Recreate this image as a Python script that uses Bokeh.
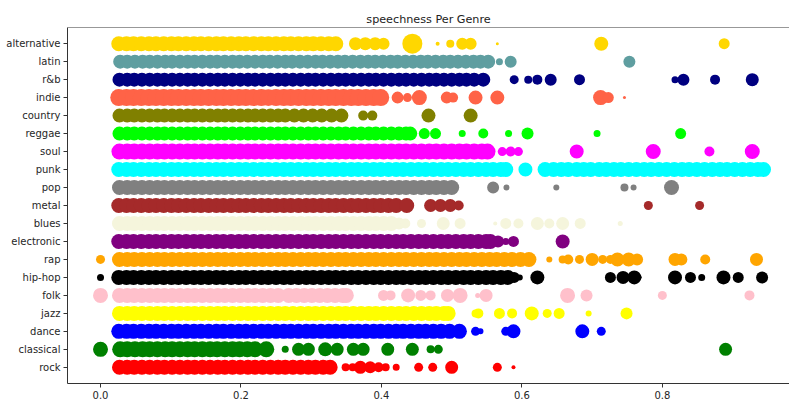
from bokeh.plotting import figure
from bokeh.models import ColumnDataSource, Range1d, FixedTicker, Span, NumeralTickFormatter
from bokeh.embed import file_html
from bokeh.resources import INLINE

# categories, bottom to top
genres = ["rock", "classical", "dance", "jazz", "folk", "hip-hop", "rap", "electronic",
          "blues", "metal", "pop", "punk", "soul", "reggae", "country", "indie", "r&b",
          "latin", "alternative"]
colors = ["#FF0000", "#008000", "#0000FF", "#FFFF00", "#FFC0CB", "#000000", "#FFA500",
          "#800080", "#F5F5DC", "#A52A2A", "#808080", "#00FFFF", "#FF00FF", "#00FF00",
          "#808000", "#FF6347", "#000080", "#5F9EA0", "#FFD700"]
band_size = [15, 16, 15, 15, 15, 15, 15, 15, 15, 15, 15, 15, 16, 14, 14, 17, 14, 14, 15]

# dense speechness values (the bulk of the tracks) per genre
rock_band = [0.027, 0.038, 0.048, 0.059, 0.070, 0.081, 0.091, 0.102, 0.113, 0.124, 0.134, 0.145,
             0.156, 0.167, 0.177, 0.188, 0.199, 0.210, 0.220, 0.231, 0.242, 0.253, 0.263, 0.274,
             0.285, 0.296, 0.306, 0.317, 0.327]
classical_band = [0.028, 0.038, 0.049, 0.060, 0.070, 0.081, 0.092, 0.102, 0.113, 0.124, 0.134,
                  0.145, 0.156, 0.166, 0.177, 0.188, 0.198, 0.209, 0.220, 0.236]
dance_band = [0.026, 0.037, 0.047, 0.058, 0.069, 0.079, 0.090, 0.101, 0.111, 0.122, 0.133, 0.143,
              0.154, 0.165, 0.175, 0.186, 0.197, 0.207, 0.218, 0.229, 0.239, 0.250, 0.261, 0.271,
              0.282, 0.293, 0.303, 0.314, 0.325, 0.335, 0.346, 0.357, 0.367, 0.378, 0.389, 0.399,
              0.410, 0.421, 0.431, 0.442, 0.453, 0.463, 0.474, 0.485, 0.497, 0.511]
jazz_band = [0.027, 0.038, 0.048, 0.059, 0.070, 0.081, 0.091, 0.102, 0.113, 0.124, 0.134, 0.145,
             0.156, 0.167, 0.177, 0.188, 0.199, 0.210, 0.220, 0.231, 0.242, 0.253, 0.263, 0.274,
             0.285, 0.296, 0.306, 0.317, 0.328, 0.339, 0.349, 0.360, 0.371, 0.382, 0.392, 0.403,
             0.414, 0.425, 0.435, 0.446, 0.457, 0.468, 0.478, 0.489, 0.495]
folk_band = [0.027, 0.038, 0.048, 0.059, 0.070, 0.081, 0.091, 0.102, 0.113, 0.124, 0.134, 0.145,
             0.156, 0.167, 0.177, 0.188, 0.199, 0.210, 0.220, 0.231, 0.242, 0.253, 0.268, 0.279,
             0.290, 0.301, 0.312, 0.323, 0.334, 0.345, 0.350]
hiphop_band = [0.026, 0.037, 0.047, 0.058, 0.069, 0.079, 0.090, 0.101, 0.111, 0.122, 0.133, 0.143,
               0.154, 0.165, 0.175, 0.186, 0.197, 0.207, 0.218, 0.229, 0.239, 0.250, 0.261, 0.271,
               0.282, 0.293, 0.303, 0.314, 0.325, 0.335, 0.346, 0.357, 0.367, 0.378, 0.389, 0.399,
               0.410, 0.421, 0.431, 0.442, 0.453, 0.463, 0.474, 0.485, 0.495, 0.506, 0.517, 0.527,
               0.538, 0.549, 0.559, 0.570, 0.580]
rap_band = [0.027, 0.038, 0.048, 0.059, 0.070, 0.081, 0.091, 0.102, 0.113, 0.124, 0.134, 0.145,
            0.156, 0.167, 0.177, 0.188, 0.199, 0.210, 0.220, 0.231, 0.242, 0.253, 0.263, 0.274,
            0.285, 0.296, 0.306, 0.317, 0.328, 0.339, 0.349, 0.360, 0.371, 0.382, 0.392, 0.403,
            0.414, 0.425, 0.435, 0.446, 0.457, 0.468, 0.478, 0.489, 0.500, 0.511, 0.521, 0.532,
            0.543, 0.554, 0.564, 0.575, 0.586, 0.598, 0.610]
electronic_band = [0.026, 0.037, 0.047, 0.058, 0.069, 0.079, 0.090, 0.101, 0.111, 0.122, 0.133,
                   0.143, 0.154, 0.165, 0.175, 0.186, 0.197, 0.207, 0.218, 0.229, 0.239, 0.250,
                   0.261, 0.271, 0.282, 0.293, 0.303, 0.314, 0.325, 0.335, 0.346, 0.357, 0.367,
                   0.378, 0.389, 0.399, 0.410, 0.421, 0.431, 0.442, 0.453, 0.463, 0.474, 0.485,
                   0.495, 0.506, 0.517, 0.527, 0.538, 0.549, 0.555]
blues_band = [0.027, 0.038, 0.048, 0.059, 0.070, 0.081, 0.091, 0.102, 0.113, 0.124, 0.134, 0.145,
              0.156, 0.167, 0.177, 0.188, 0.199, 0.210, 0.220, 0.231, 0.242, 0.253, 0.263, 0.274,
              0.285, 0.296, 0.306, 0.317, 0.328, 0.339, 0.349, 0.360, 0.371, 0.382, 0.392, 0.403,
              0.414]
metal_band = [0.026, 0.037, 0.047, 0.058, 0.069, 0.079, 0.090, 0.101, 0.111, 0.122, 0.133, 0.143,
              0.154, 0.165, 0.175, 0.186, 0.197, 0.207, 0.218, 0.229, 0.239, 0.250, 0.261, 0.271,
              0.282, 0.293, 0.303, 0.314, 0.325, 0.335, 0.346, 0.357, 0.367, 0.378, 0.389, 0.399,
              0.410, 0.421, 0.436]
pop_band = [0.027, 0.038, 0.048, 0.059, 0.070, 0.081, 0.091, 0.102, 0.113, 0.124, 0.134, 0.145,
            0.156, 0.167, 0.177, 0.188, 0.199, 0.210, 0.220, 0.231, 0.242, 0.253, 0.263, 0.274,
            0.285, 0.296, 0.306, 0.317, 0.328, 0.339, 0.349, 0.360, 0.371, 0.382, 0.392, 0.403,
            0.414, 0.425, 0.435, 0.446, 0.457, 0.468, 0.478, 0.489, 0.500]
punk_band = [0.026, 0.037, 0.047, 0.058, 0.069, 0.079, 0.090, 0.101, 0.111, 0.122, 0.133, 0.143,
             0.154, 0.165, 0.175, 0.186, 0.197, 0.207, 0.218, 0.229, 0.239, 0.250, 0.261, 0.271,
             0.282, 0.293, 0.303, 0.314, 0.325, 0.335, 0.346, 0.357, 0.367, 0.378, 0.389, 0.399,
             0.410, 0.421, 0.431, 0.442, 0.453, 0.463, 0.474, 0.485, 0.495, 0.506, 0.517, 0.527,
             0.538, 0.549, 0.559, 0.570, 0.577,
             0.633, 0.645, 0.656, 0.666, 0.678, 0.688, 0.698, 0.710, 0.720, 0.731, 0.741, 0.752,
             0.763, 0.774, 0.784, 0.795, 0.806, 0.817, 0.828, 0.838, 0.849, 0.860, 0.871, 0.882,
             0.892, 0.903, 0.914, 0.925, 0.936, 0.944]
soul_band = [0.027, 0.038, 0.048, 0.059, 0.070, 0.081, 0.091, 0.102, 0.113, 0.124, 0.134, 0.145,
             0.156, 0.167, 0.177, 0.188, 0.199, 0.210, 0.220, 0.231, 0.242, 0.253, 0.263, 0.274,
             0.285, 0.296, 0.306, 0.317, 0.328, 0.339, 0.349, 0.360, 0.371, 0.382, 0.392, 0.403,
             0.414, 0.425, 0.435, 0.446, 0.457, 0.468, 0.478, 0.489, 0.500, 0.511, 0.521, 0.532,
             0.543, 0.551]
reggae_band = [0.027, 0.038, 0.048, 0.059, 0.070, 0.081, 0.091, 0.102, 0.113, 0.124, 0.134, 0.145,
               0.156, 0.167, 0.177, 0.188, 0.199, 0.210, 0.220, 0.231, 0.242, 0.253, 0.263, 0.274,
               0.285, 0.296, 0.306, 0.317, 0.328, 0.339, 0.349, 0.360, 0.371, 0.382, 0.392, 0.403,
               0.414, 0.425, 0.435, 0.441]
country_band = [0.027, 0.038, 0.048, 0.059, 0.070, 0.081, 0.091, 0.102, 0.113, 0.124, 0.134,
                0.145, 0.156, 0.167, 0.177, 0.188, 0.199, 0.210, 0.220, 0.231, 0.242, 0.253,
                0.263, 0.276, 0.289, 0.302, 0.315, 0.329, 0.343]
indie_band = [0.026, 0.037, 0.047, 0.058, 0.069, 0.079, 0.090, 0.101, 0.111, 0.122, 0.133, 0.143,
              0.154, 0.165, 0.175, 0.186, 0.197, 0.207, 0.218, 0.229, 0.239, 0.250, 0.261, 0.271,
              0.282, 0.293, 0.303, 0.314, 0.325, 0.335, 0.346, 0.357, 0.367, 0.378, 0.389, 0.399]
rnb_band = [0.027, 0.038, 0.048, 0.059, 0.070, 0.081, 0.091, 0.102, 0.113, 0.124, 0.134, 0.145,
            0.156, 0.167, 0.177, 0.188, 0.199, 0.210, 0.220, 0.231, 0.242, 0.253, 0.263, 0.274,
            0.285, 0.296, 0.306, 0.317, 0.328, 0.339, 0.349, 0.360, 0.371, 0.382, 0.392, 0.403,
            0.414, 0.425, 0.435, 0.446, 0.457, 0.468, 0.478, 0.489, 0.500, 0.511, 0.521, 0.532,
            0.545]
latin_band = [0.028, 0.038, 0.049, 0.060, 0.070, 0.081, 0.092, 0.102, 0.113, 0.124, 0.134, 0.145,
              0.156, 0.166, 0.177, 0.188, 0.198, 0.209, 0.220, 0.231, 0.241, 0.252, 0.263, 0.273,
              0.284, 0.295, 0.306, 0.316, 0.327, 0.338, 0.348, 0.359, 0.370, 0.381, 0.391, 0.402,
              0.413, 0.423, 0.434, 0.445, 0.456, 0.466, 0.477, 0.488, 0.498, 0.509, 0.520, 0.531,
              0.541, 0.552]
alternative_band = [0.026, 0.037, 0.047, 0.058, 0.069, 0.079, 0.090, 0.101, 0.111, 0.122, 0.133,
                    0.143, 0.154, 0.165, 0.175, 0.186, 0.197, 0.207, 0.218, 0.229, 0.239, 0.250,
                    0.261, 0.271, 0.282, 0.293, 0.303, 0.314, 0.325, 0.335]

# sparser / outlying tracks per genre (speechness, marker size)
rock_x = [0.349, 0.359, 0.370, 0.384, 0.396, 0.406, 0.421, 0.453, 0.473, 0.500, 0.565, 0.588]
rock_s = [8, 8, 13, 12, 10, 8, 7, 9, 9, 13, 9, 4]
classical_x = [0.0, 0.263, 0.282, 0.296, 0.320, 0.337, 0.360, 0.374, 0.409, 0.444, 0.470, 0.481, 0.890]
classical_s = [15, 7, 13, 13, 14, 13, 13, 13, 13, 13, 8, 9, 13]
dance_x = [0.534, 0.541, 0.577, 0.588, 0.686, 0.713]
dance_s = [9, 6, 9, 14, 14, 9]
jazz_x = [0.534, 0.538, 0.568, 0.586, 0.614, 0.636, 0.653, 0.695, 0.749]
jazz_s = [8, 10, 11, 10, 14, 9, 11, 6, 12]
folk_x = [0.0, 0.403, 0.413, 0.438, 0.456, 0.470, 0.494, 0.512, 0.537, 0.549, 0.665, 0.692, 0.800, 0.924]
folk_s = [15, 11, 10, 14, 11, 10, 13, 15, 5, 13, 15, 12, 9, 10]
hiphop_x = [0.0, 0.589, 0.597, 0.622, 0.726, 0.744, 0.760, 0.767, 0.818, 0.840, 0.856, 0.887, 0.908, 0.942]
hiphop_s = [7, 11, 6, 14, 11, 13, 14, 5, 14, 11, 7, 14, 11, 12]
rap_x = [0.0, 0.639, 0.658, 0.666, 0.682, 0.700, 0.715, 0.726, 0.736, 0.752, 0.764, 0.818, 0.827, 0.861, 0.934]
rap_s = [9, 6, 8, 10, 9, 13, 9, 9, 14, 14, 12, 13, 12, 10, 13]
electronic_x = [0.566, 0.577, 0.588, 0.658]
electronic_s = [12, 7, 11, 14]
blues_x = [0.425, 0.434, 0.457, 0.488, 0.512, 0.562, 0.577, 0.595, 0.622, 0.639, 0.658, 0.683, 0.740]
blues_s = [12, 10, 9, 13, 11, 4, 11, 10, 13, 10, 13, 11, 5]
metal_x = [0.470, 0.484, 0.498, 0.510, 0.780, 0.853]
metal_s = [13, 13, 13, 10, 9, 9]
pop_x = [0.559, 0.578, 0.649, 0.746, 0.759, 0.813]
pop_s = [12, 6, 6, 8, 6, 15]
punk_x = [0.605]
punk_s = [14]
soul_x = [0.572, 0.584, 0.595, 0.678, 0.787, 0.867, 0.928]
soul_s = [9, 10, 9, 14, 15, 10, 15]
reggae_x = [0.461, 0.477, 0.515, 0.545, 0.581, 0.608, 0.707, 0.826]
reggae_s = [11, 11, 7, 10, 7, 12, 7, 11]
country_x = [0.374, 0.387, 0.467, 0.527]
country_s = [10, 10, 14, 14]
indie_x = [0.423, 0.437, 0.454, 0.493, 0.502, 0.534, 0.565, 0.712, 0.723, 0.746]
indie_s = [12, 9, 15, 12, 10, 14, 14, 15, 11, 3]
rnb_x = [0.589, 0.609, 0.622, 0.641, 0.682, 0.818, 0.830, 0.875, 0.928]
rnb_s = [9, 8, 10, 12, 11, 7, 12, 10, 13]
latin_x = [0.568, 0.584, 0.753]
latin_s = [7, 12, 12]
alternative_x = [0.363, 0.377, 0.391, 0.403, 0.444, 0.480, 0.498, 0.515, 0.527, 0.565, 0.713, 0.888]
alternative_s = [13, 13, 13, 12, 20, 4, 8, 12, 12, 3, 14, 11]

x_ticks = [0.0, 0.2, 0.4, 0.6, 0.8]

bands = [rock_band, classical_band, dance_band, jazz_band, folk_band, hiphop_band, rap_band,
         electronic_band, blues_band, metal_band, pop_band, punk_band, soul_band, reggae_band,
         country_band, indie_band, rnb_band, latin_band, alternative_band]
outs = [(rock_x, rock_s), (classical_x, classical_s), (dance_x, dance_s), (jazz_x, jazz_s),
        (folk_x, folk_s), (hiphop_x, hiphop_s), (rap_x, rap_s), (electronic_x, electronic_s),
        (blues_x, blues_s), (metal_x, metal_s), (pop_x, pop_s), (punk_x, punk_s),
        (soul_x, soul_s), (reggae_x, reggae_s), (country_x, country_s), (indie_x, indie_s),
        (rnb_x, rnb_s), (latin_x, latin_s), (alternative_x, alternative_s)]

xs, ys, ss, cs = [], [], [], []
for i, g in enumerate(genres):
    for v in bands[i]:
        xs.append(v); ys.append(i); ss.append(band_size[i]); cs.append(colors[i])
    ox, osz = outs[i]
    for v, s in zip(ox, osz):
        xs.append(v); ys.append(i); ss.append(s); cs.append(colors[i])

src = ColumnDataSource(dict(x=xs, y=ys, size=ss, color=cs))

p = figure(width=789, height=401, output_backend="svg", toolbar_location=None,
           x_range=Range1d(-0.047, 0.981), y_range=Range1d(-0.9, 18.9),
           min_border_left=67, min_border_right=0, min_border_top=27, min_border_bottom=0,
           title="speechness Per Genre")
p.scatter(x="x", y="y", size="size", color="color", line_color=None, source=src)

p.title.text_font = "DejaVu Sans"
p.title.text_font_size = "11.2px"
p.title.text_font_style = "normal"
p.title.text_color = "#222222"
p.title.align = "center"
p.title.standoff = 3

p.xgrid.visible = False
p.ygrid.visible = False
p.outline_line_color = None
p.background_fill_color = "white"
p.border_fill_color = "white"

p.yaxis.ticker = FixedTicker(ticks=list(range(len(genres))))
p.yaxis.major_label_overrides = {i: g for i, g in enumerate(genres)}
p.xaxis.ticker = FixedTicker(ticks=x_ticks)
p.xaxis.formatter = NumeralTickFormatter(format="0.0")

for ax in (p.xaxis[0], p.yaxis[0]):
    ax.axis_line_color = "#333333"
    ax.major_tick_line_color = "#333333"
    ax.major_tick_out = 4
    ax.major_tick_in = 0
    ax.minor_tick_out = 0
    ax.minor_tick_in = 0
    ax.major_label_text_font = "DejaVu Sans"
    ax.major_label_text_font_size = "10px"
    ax.major_label_text_color = "#262626"
    ax.major_label_standoff = 3

p.add_layout(Span(location=18.9, dimension="width", line_color="#333333", line_width=1))

open("out.html", "w").write(file_html(p, INLINE))
